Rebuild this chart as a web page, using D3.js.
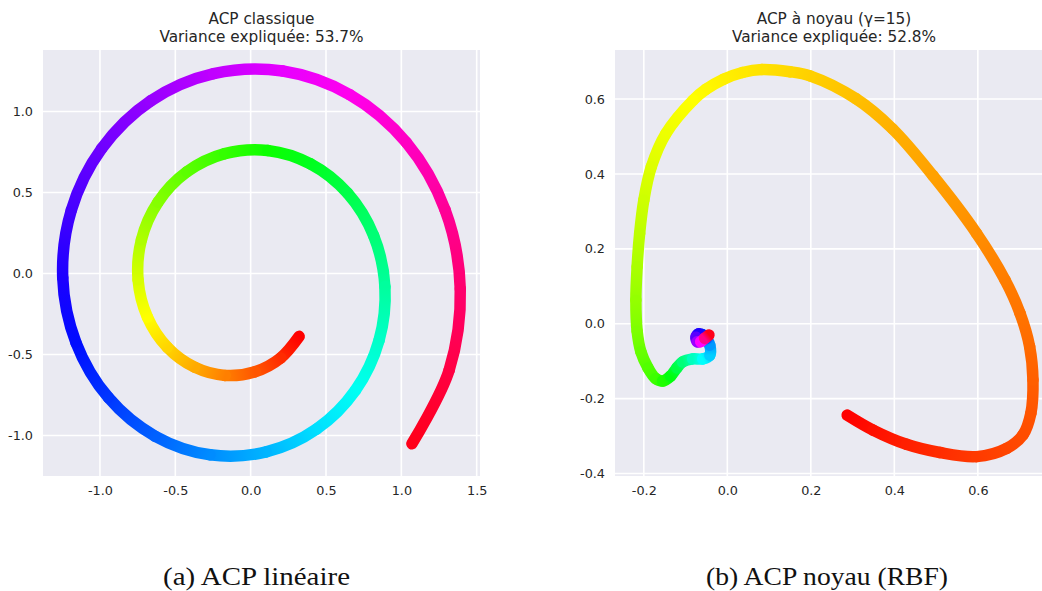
<!DOCTYPE html>
<html lang="fr">
<head>
  <meta charset="UTF-8" />
  <title>ACP linéaire vs ACP à noyau</title>
  <script src="https://d3js.org/d3.v7.min.js"></script>
  <style>
    body { margin: 0; padding: 0; background: white; }
    svg { display: block; }
    .tick-label { font-family: "DejaVu Sans", sans-serif; font-size: 12.8px; fill: #262626; }
    .title { font-family: "DejaVu Sans", sans-serif; font-size: 15.3px; fill: #262626; }
    .caption { font-family: "Liberation Serif", serif; font-size: 25px; fill: #111; }
  </style>
</head>
<body>
  <svg id="chart" width="1042" height="591"></svg>

  <script>
    // left panel: linear PCA of the spiral
    const leftX = [0.322, 0.199, 0.029, -0.169, -0.372, -0.553, -0.685, -0.747, -0.725, -0.615,
      -0.424, -0.172, 0.113, 0.397, 0.643, 0.816, 0.891, 0.852, 0.696, 0.438,
      0.103, -0.269, -0.634, -0.944, -1.159, -1.247, -1.190, -0.989, -0.663, -0.246,
      0.213, 0.658, 1.034, 1.290, 1.391, 1.317, 1.070];
    const leftY = [-0.388, -0.521, -0.606, -0.629, -0.578, -0.455, -0.269, -0.039, 0.208, 0.440,
      0.627, 0.740, 0.760, 0.677, 0.496, 0.234, -0.082, -0.413, -0.720, -0.960,
      -1.101, -1.119, -1.004, -0.766, -0.427, -0.026, 0.391, 0.771, 1.066, 1.234,
      1.250, 1.104, 0.808, 0.393, -0.095, -0.597, -1.051];
    // colour position (0..1, hsv colormap)
    const leftT = [0, 0.028, 0.056, 0.083, 0.111, 0.139, 0.167, 0.194, 0.222, 0.25,
      0.278, 0.306, 0.333, 0.361, 0.389, 0.417, 0.444, 0.472, 0.5, 0.528,
      0.556, 0.583, 0.611, 0.639, 0.667, 0.694, 0.722, 0.75, 0.778, 0.806,
      0.833, 0.861, 0.889, 0.917, 0.944, 0.972, 1];

    // right panel: kernel PCA (RBF)
    const rightX = [0.287, 0.349, 0.429, 0.509, 0.597, 0.669, 0.708, 0.727, 0.732, 0.724,
      0.701, 0.665, 0.597, 0.492, 0.396, 0.308, 0.198, 0.150, 0.083, 0.036,
      -0.009, -0.051, -0.082, -0.147, -0.182, -0.200, -0.210, -0.216, -0.219, -0.216,
      -0.207, -0.190, -0.172, -0.155, -0.136, -0.121, -0.107, -0.083, -0.059, -0.042,
      -0.042, -0.050, -0.060, -0.069, -0.075, -0.072, -0.064, -0.054, -0.044];
    const rightY = [-0.244, -0.284, -0.322, -0.344, -0.355, -0.333, -0.297, -0.239, -0.150, -0.061,
      0.028, 0.117, 0.241, 0.396, 0.520, 0.601, 0.662, 0.673, 0.679, 0.671,
      0.653, 0.626, 0.597, 0.508, 0.419, 0.330, 0.241, 0.152, 0.063, -0.020,
      -0.075, -0.118, -0.146, -0.153, -0.140, -0.118, -0.102, -0.094, -0.094, -0.084,
      -0.057, -0.040, -0.029, -0.027, -0.036, -0.048, -0.048, -0.039, -0.030];
    const rightT = [0, 0.010, 0.020, 0.029, 0.038, 0.045, 0.050, 0.055, 0.062, 0.069,
      0.076, 0.082, 0.093, 0.105, 0.115, 0.125, 0.136, 0.141, 0.148, 0.152,
      0.157, 0.162, 0.167, 0.178, 0.189, 0.200, 0.212, 0.225, 0.240, 0.255,
      0.270, 0.285, 0.300, 0.320, 0.350, 0.385, 0.420, 0.465, 0.505, 0.540,
      0.575, 0.615, 0.655, 0.695, 0.735, 0.780, 0.850, 0.925, 1.0];

    const leftXTicks = [-1.0, -0.5, 0.0, 0.5, 1.0, 1.5];
    const leftYTicks = [-1.0, -0.5, 0.0, 0.5, 1.0];
    const rightXTicks = [-0.2, 0.0, 0.2, 0.4, 0.6];
    const rightYTicks = [-0.4, -0.2, 0.0, 0.2, 0.4, 0.6];

    const titles = [
      ["ACP classique", "Variance expliquée: 53.7%"],
      ["ACP à noyau (γ=15)", "Variance expliquée: 52.8%"]
    ];
    const captions = ["(a) ACP linéaire", "(b) ACP noyau (RBF)"];

    // matplotlib "hsv" colormap
    const hsv = d3.scaleLinear()
      .domain([0, 0.1667, 0.3413, 0.5079, 0.6746, 0.8492, 1])
      .range(["#ff0000", "#ffff00", "#00ff00", "#00ffff", "#0000ff", "#ff00ff", "#ff0018"])
      .interpolate(d3.interpolateRgb);

    const svg = d3.select("#chart");
    const defs = svg.append("defs");
    let gradCount = 0;

    // centripetal Catmull-Rom control points (same maths as d3.curveCatmullRom.alpha(0.5))
    function controls(p0, p1, p2, p3) {
      const dist = (a, b) => Math.hypot(b[0] - a[0], b[1] - a[1]);
      const l01 = Math.sqrt(dist(p0, p1)), l12 = Math.sqrt(dist(p1, p2)), l23 = Math.sqrt(dist(p2, p3));
      let c1 = p1, c2 = p2;
      if (l01 > 1e-6) {
        const a = 2 * l01 * l01 + 3 * l01 * l12 + l12 * l12, n = 3 * l01 * (l01 + l12);
        c1 = [0, 1].map(k => (p1[k] * a - p0[k] * l12 * l12 + p2[k] * l01 * l01) / n);
      }
      if (l23 > 1e-6) {
        const b = 2 * l23 * l23 + 3 * l23 * l12 + l12 * l12, m = 3 * l23 * (l23 + l12);
        c2 = [0, 1].map(k => (p2[k] * b + p1[k] * l23 * l23 - p3[k] * l12 * l12) / m);
      }
      return [c1, c2];
    }

    function drawPanel(opt) {
      const x = d3.scaleLinear().domain(opt.xDomain).range([opt.left, opt.right]);
      const y = d3.scaleLinear().domain(opt.yDomain).range([opt.bottom, opt.top]);
      const g = svg.append("g");

      g.append("rect")
        .attr("x", opt.left).attr("y", opt.top)
        .attr("width", opt.right - opt.left).attr("height", opt.bottom - opt.top)
        .attr("fill", "#eaeaf2");

      // grid
      g.selectAll(".vgrid").data(opt.xTicks).enter().append("line")
        .attr("x1", d => x(d)).attr("x2", d => x(d))
        .attr("y1", opt.top).attr("y2", opt.bottom)
        .attr("stroke", "white").attr("stroke-width", 1.6);
      g.selectAll(".hgrid").data(opt.yTicks).enter().append("line")
        .attr("x1", opt.left).attr("x2", opt.right)
        .attr("y1", d => y(d)).attr("y2", d => y(d))
        .attr("stroke", "white").attr("stroke-width", 1.6);

      // axes (labels only, seaborn style)
      const fmt = d => d.toFixed(1);
      const xa = g.append("g").attr("transform", `translate(0,${opt.bottom})`)
        .call(d3.axisBottom(x).tickValues(opt.xTicks).tickSize(0).tickPadding(10).tickFormat(fmt));
      const ya = g.append("g").attr("transform", `translate(${opt.left},0)`)
        .call(d3.axisLeft(y).tickValues(opt.yTicks).tickSize(0).tickPadding(10).tickFormat(fmt));
      [xa, ya].forEach(a => {
        a.select(".domain").remove();
        a.selectAll("text").attr("class", "tick-label").attr("fill", null);
      });

      // spiral: one curved segment per pair of points, coloured by a gradient
      const pts = opt.xs.map((v, i) => [x(v), y(opt.ys[i])]);
      const n = pts.length;
      const P = i => pts[Math.max(0, Math.min(n - 1, i))];
      const curve = g.append("g");
      for (let i = 0; i < n - 1; i++) {
        const p1 = P(i), p2 = P(i + 1);
        const [c1, c2] = controls(P(i - 1), p1, p2, P(i + 2));
        const id = "grad" + (gradCount++);
        const lg = defs.append("linearGradient").attr("id", id)
          .attr("gradientUnits", "userSpaceOnUse")
          .attr("x1", p1[0]).attr("y1", p1[1]).attr("x2", p2[0]).attr("y2", p2[1]);
        lg.append("stop").attr("offset", 0).attr("stop-color", hsv(opt.ts[i]));
        lg.append("stop").attr("offset", 1).attr("stop-color", hsv(opt.ts[i + 1]));
        curve.append("path")
          .attr("d", `M${p1}C${c1} ${c2} ${p2}`)
          .attr("fill", "none")
          .attr("stroke", `url(#${id})`)
          .attr("stroke-width", 11.5)
          .attr("stroke-linecap", "round");
      }

      // titles
      const cx = (opt.left + opt.right) / 2;
      g.append("text").attr("class", "title").attr("x", cx).attr("y", 24)
        .attr("text-anchor", "middle").text(opt.title[0]);
      g.append("text").attr("class", "title").attr("x", cx).attr("y", 41.5)
        .attr("text-anchor", "middle").text(opt.title[1]);

      g.append("text").attr("class", "caption").attr("x", opt.capX).attr("y", 585)
        .attr("text-anchor", "middle")
        .attr("textLength", opt.capW).attr("lengthAdjust", "spacingAndGlyphs")
        .text(opt.caption);
    }

    drawPanel({
      left: 43, right: 480, top: 50, bottom: 476,
      xDomain: [-1.378, 1.522], yDomain: [-1.250, 1.380],
      xTicks: leftXTicks, yTicks: leftYTicks,
      xs: leftX, ys: leftY, ts: leftT,
      title: titles[0], caption: captions[0], capX: 256.5, capW: 187
    });

    drawPanel({
      left: 615, right: 1053, top: 50, bottom: 476,
      xDomain: [-0.269, 0.780], yDomain: [-0.4067, 0.731],
      xTicks: rightXTicks, yTicks: rightYTicks,
      xs: rightX, ys: rightY, ts: rightT,
      title: titles[1], caption: captions[1], capX: 827, capW: 242
    });
  </script>
</body>
</html>
